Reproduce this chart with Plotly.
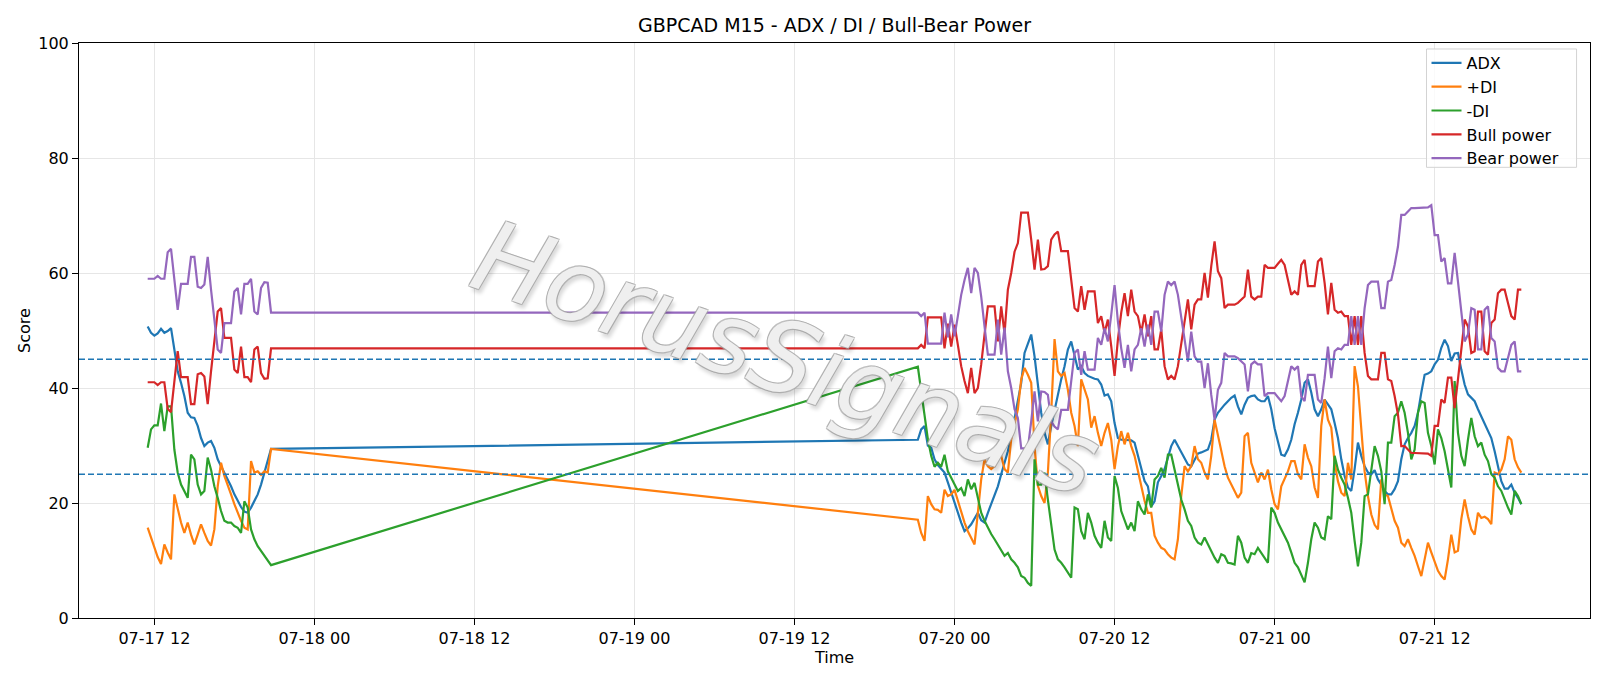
import pandas as pd
import plotly.graph_objects as go

# ---- time stamps (M15 bars; Friday session, then Sunday open onwards) ----
seg1_start, seg1_len = "2020-07-17 11:30", 38
seg2_start, seg2_len = "2020-07-19 21:15", 182
times = list(pd.date_range(seg1_start, periods=seg1_len, freq="15min")) + \
        list(pd.date_range(seg2_start, periods=seg2_len, freq="15min"))

adx = [
    50.7, 49.6, 49.1, 49.5, 50.3, 49.6, 49.9, 50.4, 46.7, 42.9, 40.9, 38.6, 35.7, 34.9, 34.8, 33.4, 31.3, 29.9, 30.5, 30.8,
    29.6, 27.6, 26.4, 25.3, 24.1, 22.9, 21.5, 20.3, 19.3, 18.5, 18.3, 19.2, 20.3, 21.5, 23.2, 25.3, 27.3, 29.4,
    31.0, 32.8, 33.4, 30.0, 29.6, 27.6, 26.6, 25.9, 25.3, 23.6, 21.8, 20.1, 18.3, 16.6, 15.1, 15.6, 16.3, 17.2, 18.3, 17.0,
    16.6, 18.3, 19.8, 21.2, 22.9, 25.0, 27.0, 29.0, 31.6, 34.5, 37.7, 40.9,
    46.1, 47.8, 49.3, 45.5, 40.9, 35.7, 32.2, 30.2, 33.4, 36.3, 38.6, 41.5, 43.8, 46.7, 48.1, 45.8, 43.2, 43.8, 42.6, 42.1,
    41.8, 41.6, 41.5, 40.6, 38.7, 38.9, 37.7, 33.9, 31.3, 31.0, 31.0, 31.0, 30.9, 30.5, 28.4, 26.2, 23.8, 22.9,
    19.4, 20.3, 23.6, 24.7, 25.9, 27.9, 29.9, 31.0, 29.9, 28.7, 27.6, 26.7, 26.4, 27.6, 28.6, 28.8, 29.0, 29.3, 31.0, 34.5,
    35.7, 36.5, 37.1, 37.7, 38.3, 38.7, 36.8, 35.4, 37.1, 38.3, 38.6, 38.7, 38.0, 37.7, 37.7, 38.6, 36.3, 33.0,
    30.5, 28.4, 28.2, 29.3, 31.0, 33.7, 35.7, 38.0, 40.9, 41.5, 39.2, 36.3, 35.1, 36.3, 38.0, 37.1, 36.3, 33.9, 31.3, 27.6,
    24.7, 22.7, 22.1, 25.9, 30.5, 28.2, 26.4, 25.3, 25.0, 25.7, 24.1, 23.2, 22.1, 21.5, 21.5, 22.4, 23.8,
    27.6, 30.2, 31.3, 32.2, 33.4, 35.7, 39.2, 42.3, 42.5, 42.9, 44.1, 44.9, 47.0, 48.4, 47.3, 44.7, 46.0, 46.1, 43.2, 40.6,
    38.9, 38.3, 37.7, 36.3, 35.1, 33.9, 32.5, 31.3, 29.0, 26.2, 23.8, 22.5, 22.5, 23.2, 21.8, 20.9, 19.8,
]

plus_di = [
    15.7, 14.1, 12.3, 10.6, 9.4, 12.8, 11.4, 10.2, 21.5, 18.9, 16.6, 14.8, 16.6, 14.5, 12.8, 14.5, 16.3, 14.8, 13.4, 12.6,
    15.4, 22.9, 27.0, 24.7, 22.9, 21.5, 19.8, 18.3, 16.9, 15.7, 15.4, 27.3, 25.3, 25.5, 24.9, 25.5, 25.3, 29.4,
    17.1, 14.8, 13.4, 21.2, 19.8, 18.9, 18.8, 18.3, 22.3, 21.2, 21.5, 22.3, 20.3, 18.6, 16.6, 15.1, 14.0, 12.8, 18.3, 24.1,
    27.6, 26.4, 25.9, 26.4, 28.2, 28.2, 25.9, 25.3, 31.1, 34.0, 36.3, 41.5,
    43.5, 42.3, 40.9, 29.9, 23.0, 21.2, 20.0, 25.3, 35.7, 48.5, 42.9, 42.1, 42.6, 39.7, 35.7, 33.4, 29.9, 41.5, 39.7, 38.0,
    33.1, 35.1, 32.2, 29.9, 32.2, 33.9, 31.0, 25.9, 29.9, 32.5, 30.2, 32.2, 29.9, 28.2, 25.6, 22.7, 20.4, 18.3,
    18.3, 14.3, 13.1, 12.2, 11.9, 11.1, 10.5, 10.2, 13.7, 21.2, 26.4, 25.5, 26.4, 29.9, 27.6, 27.0, 25.3, 24.1, 28.2, 34.5,
    31.6, 29.3, 26.4, 24.4, 23.2, 22.1, 20.9, 21.8, 31.6, 32.2, 27.0, 25.3, 23.6, 25.3, 24.1, 25.8, 22.4, 19.8,
    18.9, 22.9, 24.1, 25.5, 27.3, 27.3, 25.0, 24.1, 30.2, 27.9, 26.4, 22.7, 20.9, 33.4, 38.0, 34.5, 33.1, 27.0, 23.8, 21.8,
    21.2, 27.0, 24.1, 43.8, 40.3, 32.2, 25.5, 21.2, 18.0, 16.2, 15.4, 24.1, 21.5, 21.2, 18.9, 16.9, 15.7,
    13.1, 12.5, 13.7, 12.2, 10.8, 9.0, 7.3, 10.2, 13.1, 11.4, 9.6, 8.2, 7.3, 6.7, 10.2, 14.5, 11.4, 11.7, 17.2, 20.6,
    17.7, 15.4, 14.5, 18.3, 17.4, 17.6, 17.2, 16.3, 25.3, 25.0, 25.8, 27.6, 31.6, 31.0, 27.6, 26.2, 25.3,
]

minus_di = [
    29.6, 32.8, 33.5, 33.5, 37.3, 32.5, 36.8, 36.8, 29.3, 25.3, 23.2, 22.1, 20.9, 28.4, 27.6, 23.2, 21.5, 22.1, 27.9, 25.8,
    22.9, 20.9, 18.6, 16.9, 16.6, 16.6, 16.0, 15.7, 14.8, 20.3, 19.2, 15.4, 13.7, 12.5, 11.7, 10.8, 9.9, 9.2,
    43.7, 39.2, 34.8, 31.1, 28.2, 26.3, 27.0, 26.3, 28.4, 25.5, 24.4, 23.2, 22.1, 22.6, 21.2, 24.1, 22.4, 23.5, 20.9, 18.3,
    16.9, 15.7, 14.6, 13.7, 12.8, 11.9, 10.8, 11.3, 10.2, 9.6, 8.8, 7.3,
    7.0, 6.1, 5.6, 27.6, 23.2, 23.2, 25.3, 20.6, 16.0, 11.9, 10.2, 9.6, 8.8, 7.9, 7.0, 19.2, 18.9, 15.1, 13.7, 18.3,
    16.6, 14.3, 13.1, 12.2, 16.9, 14.0, 13.4, 24.7, 22.6, 18.6, 16.9, 15.4, 16.6, 15.1, 20.3, 18.9, 18.0, 21.5,
    19.2, 24.1, 24.7, 26.1, 24.4, 28.4, 28.4, 25.8, 22.9, 20.6, 18.9, 16.9, 16.0, 14.0, 13.1, 12.8, 14.0, 12.8, 11.7, 10.5,
    9.6, 11.1, 10.8, 9.6, 9.5, 9.3, 14.3, 13.1, 10.5, 9.6, 11.3, 11.1, 12.2, 11.3, 10.5, 9.6, 19.2, 18.3,
    16.6, 15.4, 14.5, 13.1, 11.4, 9.6, 8.8, 7.6, 6.2, 9.6, 13.7, 16.6, 15.7, 14.0, 13.7, 17.7, 17.2, 28.2, 25.8, 24.4,
    23.2, 20.9, 18.3, 13.4, 9.0, 13.1, 21.2, 21.5, 25.3, 29.9, 28.2, 25.5, 19.8, 30.5, 30.5, 35.1, 35.7,
    37.7, 35.7, 32.2, 27.6, 29.3, 35.7, 37.7, 37.4, 32.2, 29.9, 26.7, 32.8, 31.3, 29.0, 25.8, 22.7, 41.2, 32.2, 28.2, 26.4,
    31.0, 34.8, 31.6, 29.9, 30.5, 28.4, 27.3, 25.0, 24.4, 22.9, 22.1, 20.6, 19.2, 18.0, 22.1, 21.2, 19.8,
]

bull_power = [
    41.0, 41.0, 41.0, 40.5, 41.0, 41.0, 36.4, 35.8, 41.2, 46.4, 41.9, 41.9, 41.9, 37.2, 37.2, 42.4, 42.6, 42.0, 37.2, 42.9,
    48.7, 53.3, 53.9, 48.7, 48.7, 48.7, 43.2, 42.6, 47.2, 41.9, 41.9, 41.0, 46.7, 47.2, 42.6, 41.6, 41.7, 46.9,
    46.9, 47.5, 46.9, 52.3, 52.3, 52.3, 52.3, 52.3, 46.9, 51.2, 47.2, 51.0, 47.5, 43.8, 41.2, 39.1, 43.5, 39.1, 40.0, 44.1,
    49.3, 54.2, 54.2, 54.2, 48.1, 54.2, 49.5, 57.1, 60.0, 63.7, 65.2, 70.5,
    70.5, 70.5, 65.8, 60.6, 65.8, 60.6, 60.7, 61.2, 65.8, 66.7, 67.2, 63.8, 63.8, 63.8, 58.8, 53.9, 53.3, 57.7, 53.6, 56.8,
    56.8, 56.8, 51.3, 52.5, 49.6, 51.9, 47.3, 42.1, 48.4, 53.1, 56.5, 52.5, 57.1, 53.3, 52.5, 49.6, 52.8, 49.0,
    52.5, 46.7, 46.7, 50.2, 43.8, 41.5, 42.1, 41.5, 43.8, 47.8, 51.9, 55.4, 50.2, 54.5, 55.4, 55.4, 60.0, 55.7, 61.2, 65.5,
    60.3, 59.1, 53.9, 54.5, 54.5, 54.5, 54.8, 55.4, 55.9, 60.6, 55.9, 55.4, 55.9, 55.9, 61.4, 60.9, 60.9, 60.9,
    61.6, 62.3, 61.4, 58.8, 56.2, 56.8, 56.2, 61.4, 62.3, 57.7, 57.7, 57.7, 62.0, 62.6, 58.3, 52.8, 58.3, 53.6, 53.1, 53.3,
    52.5, 52.5, 47.5, 52.5, 47.5, 52.5, 46.1, 42.1, 41.5, 41.5, 41.5, 46.1, 46.1, 41.5, 41.2, 38.6, 35.4,
    29.9, 29.9, 29.3, 28.7, 28.7, 28.7, 28.7, 28.7, 28.6, 28.2, 33.4, 33.4, 38.0, 37.4, 41.8, 41.8, 36.5, 41.5, 47.3, 51.9,
    50.7, 46.1, 46.4, 53.3, 53.3, 46.4, 45.8, 51.3, 51.9, 56.5, 57.1, 57.1, 54.8, 52.5, 51.9, 57.1, 57.1,
]

bear_power = [
    59.0, 59.0, 59.0, 59.5, 59.0, 59.0, 63.6, 64.2, 58.8, 53.6, 58.1, 58.1, 58.1, 62.8, 62.8, 57.6, 57.4, 58.0, 62.8, 57.1,
    51.3, 46.7, 46.1, 51.3, 51.3, 51.3, 56.8, 57.4, 52.8, 58.1, 58.1, 59.0, 53.3, 52.8, 57.4, 58.4, 58.3, 53.1,
    53.1, 52.5, 53.1, 47.7, 47.7, 47.7, 47.7, 47.7, 53.1, 48.8, 52.8, 49.0, 52.5, 56.2, 58.8, 60.9, 56.5, 60.9, 60.0, 55.9,
    50.7, 45.8, 45.8, 45.8, 51.9, 45.8, 50.5, 42.9, 40.0, 36.3, 34.8, 29.5,
    29.5, 29.5, 34.2, 39.4, 34.2, 39.4, 39.3, 38.8, 34.2, 33.3, 32.8, 36.2, 36.2, 36.2, 41.2, 46.1, 46.7, 42.3, 46.4, 43.2,
    43.2, 43.2, 48.7, 47.5, 50.4, 48.1, 52.7, 57.9, 51.6, 46.9, 43.5, 47.5, 42.9, 46.7, 47.5, 50.4, 47.2, 51.0,
    47.5, 53.3, 53.3, 49.8, 56.2, 58.5, 57.9, 58.5, 56.2, 52.2, 48.1, 44.6, 49.8, 45.5, 44.6, 44.6, 40.0, 44.3, 38.8, 34.5,
    39.7, 40.9, 46.1, 45.5, 45.5, 45.5, 45.2, 44.6, 44.1, 39.4, 44.1, 44.6, 44.1, 44.1, 38.6, 39.1, 39.1, 39.1,
    38.4, 37.7, 38.6, 41.2, 43.8, 43.2, 43.8, 38.6, 37.7, 42.3, 42.3, 42.3, 38.0, 37.4, 41.7, 47.2, 41.7, 46.4, 46.9, 46.7,
    47.5, 47.5, 52.5, 47.5, 52.5, 47.5, 53.9, 57.9, 58.5, 58.5, 58.5, 53.9, 53.9, 58.5, 58.8, 61.4, 64.6,
    70.1, 70.1, 70.7, 71.3, 71.3, 71.3, 71.3, 71.3, 71.4, 71.8, 66.6, 66.6, 62.0, 62.6, 58.2, 58.2, 63.5, 58.5, 52.7, 48.1,
    49.3, 53.9, 53.6, 46.7, 46.7, 53.6, 54.2, 48.7, 48.1, 43.5, 42.9, 42.9, 45.2, 47.5, 48.1, 42.9, 42.9,
]

series_names = ["ADX", "+DI", "-DI", "Bull power", "Bear power"]
series_values = [adx, plus_di, minus_di, bull_power, bear_power]
series_colors = ["#1f77b4", "#ff7f0e", "#2ca02c", "#d62728", "#9467bd"]
threshold_levels = [45, 25]

for v in series_values:
    if len(v) != len(times):
        raise ValueError(f"length mismatch {len(v)} vs {len(times)}")

FONT = "DejaVu Sans"
fig = go.Figure()
for name, vals, col in zip(series_names, series_values, series_colors):
    fig.add_trace(go.Scatter(x=times, y=vals, mode="lines", name=name,
                             line=dict(color=col, width=2.2)))

for lvl in threshold_levels:
    fig.add_shape(type="line", xref="paper", x0=0, x1=1, yref="y", y0=lvl, y1=lvl,
                  line=dict(color="#1f77b4", width=1.4, dash="6px,3px"))

# legend frame (drawn separately so it can be sized like the reference)
fig.add_shape(type="rect", xref="paper", yref="paper", x0=0.8918, x1=0.9911, y0=0.7838, y1=0.9896,
              line=dict(color="#d3d3d3", width=1), fillcolor="rgba(255,255,255,0.8)", layer="above")

# watermark
outline = "rgba(165,165,165,0.85)"
fig.add_annotation(text="HorusSignals", xref="paper", yref="paper", x=0.468, y=0.452,
                   showarrow=False, textangle=19,
                   font=dict(family=FONT, size=100, color="rgba(255,255,255,0.82)", style="italic",
                             shadow=(f"-1px -1px 0 {outline}, 1px -1px 0 {outline}, "
                                     f"-1px 1px 0 {outline}, 1px 1px 0 {outline}, "
                                     "4px 4px 4px rgba(0,0,0,0.18)")))

axis_common = dict(showline=True, linecolor="black", linewidth=1, mirror=True,
                   ticks="outside", ticklen=6, tickwidth=1, tickcolor="black",
                   showgrid=True, gridcolor="#e6e6e6", gridwidth=1, zeroline=False,
                   tickfont=dict(family=FONT, size=16, color="black"), automargin=False)

fig.update_layout(
    width=1600, height=686,
    paper_bgcolor="white", plot_bgcolor="white",
    margin=dict(l=79, r=10, t=43, b=68),
    title=dict(text="GBPCAD M15 - ADX / DI / Bull-Bear Power", x=0.5, xref="paper",
               y=1 - 25 / 686, yanchor="middle",
               font=dict(family=FONT, size=19, color="black")),
    font=dict(family=FONT, size=16, color="black"),
    legend=dict(x=0.8918, y=0.9948, xanchor="left", yanchor="top",
                bgcolor="rgba(0,0,0,0)", borderwidth=0,
                font=dict(family=FONT, size=16, color="black"), itemwidth=30),
    showlegend=True,
)
fig.update_xaxes(**axis_common, type="date",
                 range=["2020-07-17 06:21", "2020-07-21 23:39"],
                 tick0="2020-07-17 00:00", dtick=12 * 3600 * 1000, tickformat="%m-%d %H",
                 title=dict(text="Time", font=dict(family=FONT, size=16), standoff=4))
fig.update_yaxes(**axis_common, range=[0, 100], dtick=20,
                 title=dict(text="Score", font=dict(family=FONT, size=16), standoff=3))

fig.write_html("out.html")
